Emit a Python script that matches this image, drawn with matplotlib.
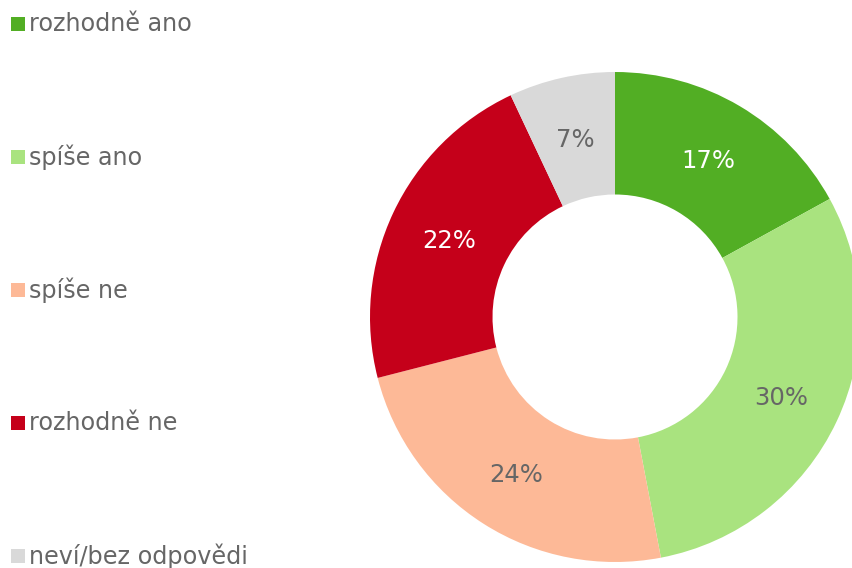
import matplotlib.pyplot as plt
from matplotlib.patches import Rectangle
import numpy as np

# answers (Czech survey), share in %
labels = ['rozhodně ano', 'spíše ano', 'spíše ne', 'rozhodně ne', 'neví/bez odpovědi']
values = [17, 30, 24, 22, 7]
colors = ['#52AE24', '#A9E37F', '#FDB997', '#C5001A', '#D9D9D9']
pct_colors = ['white', '#666666', '#666666', 'white', '#666666']

W, H = 852, 568
fig = plt.figure(figsize=(W / 100, H / 100), dpi=100)

# donut: center ~(615, 317) px, outer radius 245 px
cx, cy, r = 615, 317, 245
ax = fig.add_axes([(cx - r) / W, (H - cy - r) / H, 2 * r / W, 2 * r / H])
wedges, texts = ax.pie(values, colors=colors, startangle=90, counterclock=False,
                       radius=1, wedgeprops=dict(width=0.5, linewidth=0))
ax.set_xlim(-1, 1)
ax.set_ylim(-1, 1)
ax.set_aspect('equal')
ax.axis('off')

# percentage labels in the middle of the ring
for w, v, c in zip(wedges, values, pct_colors):
    ang = np.deg2rad((w.theta1 + w.theta2) / 2)
    ax.text(0.75 * np.cos(ang), 0.75 * np.sin(ang) - 0.01, f'{v}%', color=c,
            fontsize=17.5, ha='center', va='center')

# legend on the left, one row every ~133 px
rows_y = [24, 157, 290, 423, 556]
for lab, col, y in zip(labels, colors, rows_y):
    fig.patches.append(Rectangle((11 / W, (H - y - 7) / H), 14 / W, 14 / H,
                                 transform=fig.transFigure, color=col, lw=0))
    fig.text(29 / W, (H - y) / H, lab, fontsize=17.2, color='#666666',
             ha='left', va='center')

fig.savefig('out.png', dpi=100)
